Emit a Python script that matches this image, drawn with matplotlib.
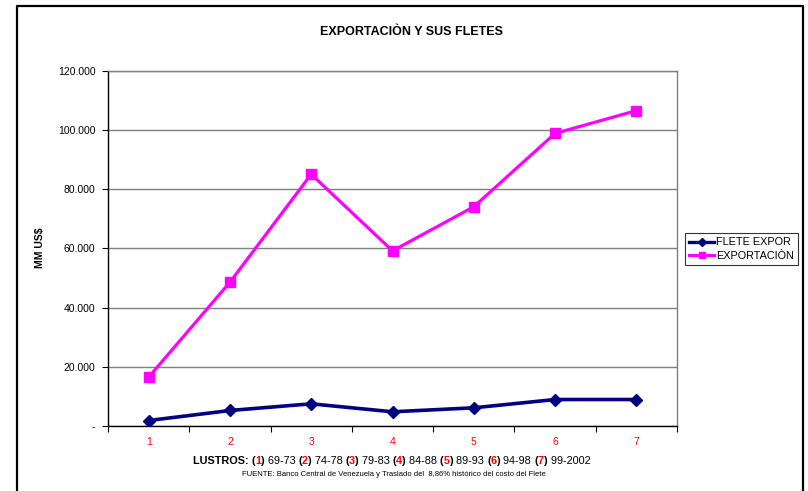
import matplotlib
matplotlib.use("Agg")
import matplotlib.pyplot as plt
from matplotlib.ticker import FuncFormatter, FixedLocator, NullFormatter
from matplotlib.lines import Line2D

plt.rcParams["font.family"] = ["Liberation Sans", "DejaVu Sans"]

# Data (millones de US$)
lustros = ["1", "2", "3", "4", "5", "6", "7"]
periodos = ["69-73", "74-78", "79-83", "84-88", "89-93", "94-98", "99-2002"]
flete_expor = [1850, 5240, 7500, 4800, 6150, 8950, 8950]
exportacion = [16500, 48600, 85100, 59200, 74100, 98900, 106600]
y_ticks = [0, 20000, 40000, 60000, 80000, 100000, 120000]

W, H = 808, 491
fig = plt.figure(figsize=(W / 100, H / 100), dpi=100)

def fx(px):
    return px / W

def fy(py):
    return 1 - py / H

ax = fig.add_axes([fx(108), fy(426), fx(677) - fx(108), fy(71) - fy(426)])

x = list(range(len(lustros)))
ax.plot(x, flete_expor, color="#000080", lw=2.6, marker="D", ms=6.5,
        markeredgecolor="#000080", label="FLETE EXPOR", zorder=3)
ax.plot(x, exportacion, color="#FF00FF", lw=2.3, marker="s", ms=7,
        markeredgecolor="#FF00FF", label="EXPORTACIÒN", zorder=3)

ax.set_xlim(-0.5, len(lustros) - 0.5)
ax.set_ylim(0, 120000)

# y axis
ax.yaxis.set_major_locator(FixedLocator(y_ticks))
ax.yaxis.set_major_formatter(FuncFormatter(
    lambda v, p: "-" if v == 0 else f"{int(v):,}".replace(",", ".")))
ax.tick_params(axis="y", direction="out", length=4, width=0.8, pad=5,
               labelsize=7.5, colors="black")
ax.grid(axis="y", color="#7f7f7f", lw=1.0)
ax.set_axisbelow(True)

# x axis: ticks between categories, labels at centres
ax.xaxis.set_major_locator(FixedLocator([i - 0.5 for i in range(len(lustros) + 1)]))
ax.xaxis.set_major_formatter(NullFormatter())
ax.xaxis.set_minor_locator(FixedLocator(x))
ax.set_xticklabels(lustros, minor=True)
ax.tick_params(axis="x", which="major", direction="out", length=4, width=0.8)
ax.tick_params(axis="x", which="minor", length=0, pad=8, labelsize=7.5,
               labelcolor="#FF0000")

for s in ("left", "bottom"):
    ax.spines[s].set_color("black")
    ax.spines[s].set_linewidth(1.0)
for s in ("top", "right"):
    ax.spines[s].set_color("#7f7f7f")
    ax.spines[s].set_linewidth(1.0)

fig.text(fx(40), fy(248), "MM US$", fontsize=7.5, fontweight="bold",
         rotation=90, ha="center", va="center")

fig.text(fx(411), fy(32), "EXPORTACIÒN Y SUS FLETES", fontsize=9,
         fontweight="bold", ha="center", va="center")

# Legend
handles = [
    Line2D([], [], color="#000080", lw=2.4, marker="D", ms=4.5),
    Line2D([], [], color="#FF00FF", lw=2.2, marker="s", ms=5),
]
leg = fig.legend(handles, ["FLETE EXPOR", "EXPORTACIÒN"], loc="upper left",
                 bbox_to_anchor=(fx(685), fy(233)), fontsize=7.8,
                 frameon=True, fancybox=False, edgecolor="black",
                 handlelength=2.3, handletextpad=0.15, borderpad=0.4,
                 labelspacing=0.3, borderaxespad=0, handleheight=0.7)
leg.get_frame().set_linewidth(0.8)

# Rich text line for the x axis title
pieces = [("LUSTROS: ", "black", "bold")]
for n, per in zip(lustros, periodos):
    pieces += [("(", "black", "bold"), (n, "#FF0000", "bold"),
               (")", "black", "bold"), (f" {per} ", "black", "normal")]

fig.canvas.draw()
renderer = fig.canvas.get_renderer()
texts = []
for s, c, w in pieces:
    t = fig.text(0, fy(461), s, color=c, fontweight=w, fontsize=7.8,
                 ha="left", va="center")
    texts.append(t)
widths = [t.get_window_extent(renderer).width for t in texts]
total = sum(widths)
start = 393 - total / 2
for t, wdt in zip(texts, widths):
    t.set_x(fx(start))
    start += wdt

fig.text(fx(394), fy(474),
         "FUENTE: Banco Central de Venezuela y Traslado del  8,86% histórico del costo del Flete",
         fontsize=5.5, ha="center", va="center")

# Outer frame (left, top, right)
frame = Line2D([fx(17.3), fx(17.3), fx(803), fx(803)], [0, fy(5.7), fy(5.7), 0],
               transform=fig.transFigure, color="black", lw=1.6)
fig.add_artist(frame)

fig.savefig("out.png", dpi=100, facecolor="white")
